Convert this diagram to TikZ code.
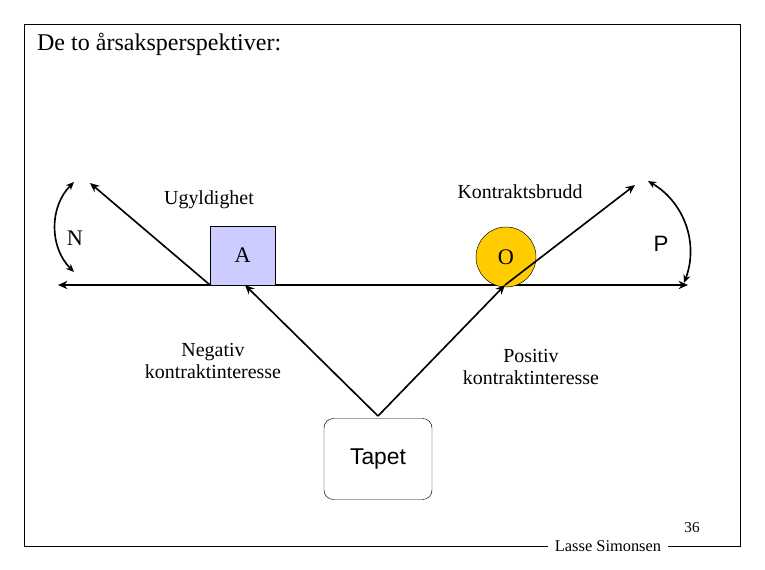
\documentclass[tikz,border=0pt]{standalone}
\usepackage{fontspec}
\setmainfont{Liberation Serif}
\newfontfamily\sans{Liberation Sans}
\usetikzlibrary{arrows.meta}
\begin{document}
\begin{tikzpicture}[x=0.03cm,y=-0.03cm,
  arr/.style={line width=1.4pt,-{Stealth[length=8pt,width=7pt]}},
  lbl/.style={font=\fontsize{17}{19}\selectfont,align=center}]
\useasboundingbox (0,0) rectangle (765,570);
\draw (548,546) -- (24,546) -- (24,24) -- (740,24) -- (740,546) -- (668,546);
\node[anchor=west,font=\fontsize{20.5}{24}\selectfont] (title) at (33,44) {De to årsaksperspektiver:};

% main axis
\coordinate (L) at (58,285);
\coordinate (R) at (688,285);
\draw[line width=1.4pt,{Stealth[length=8pt,width=7pt]}-{Stealth[length=8pt,width=7pt]}] (L) -- (R);

\node[draw,fill={rgb,255:red,204;green,204;blue,255},minimum width=1.95cm,minimum height=1.77cm,anchor=south west,font=\fontsize{19}{22}\selectfont] (A) at (210,285) {A};
\node[draw,circle,fill={rgb,255:red,255;green,204;blue,0},minimum size=1.8cm,font=\fontsize{19}{22}\selectfont] (O) at (506,257) {O};

\coordinate (a0) at (210,285);
\coordinate (a1) at (90,183);
\coordinate (o0) at (505,285);
\coordinate (o1) at (635,185);
\draw[arr] (a0) -- (a1);
\draw[arr] (o0) -- (o1);

\node[lbl] (ugyl) at (209,200) {Ugyldighet};
\node[lbl] (brudd) at (520,192) {Kontraktsbrudd};
\node[font=\fontsize{19}{22}\selectfont] (N) at (75,238) {N};
\node[font=\sans\fontsize{19}{22}\selectfont] (P) at (661,244) {P};

\coordinate (n0) at (74,182);
\coordinate (n1) at (74,272);
\coordinate (p0) at (648,181);
\coordinate (p1) at (684,283);
\draw[line width=1.4pt,{Stealth[length=7pt,width=6pt]}-{Stealth[length=7pt,width=6pt]}] (n0) to[bend right=45] (n1);
\draw[line width=1.4pt,{Stealth[length=7pt,width=6pt]}-{Stealth[length=7pt,width=6pt]}] (p0) to[bend left=40] (p1);

\node[draw,rounded corners=8pt,minimum width=3.24cm,minimum height=2.43cm,font=\sans\fontsize{19.5}{22}\selectfont] (tapet) at (378,459) {Tapet};
\coordinate (t0) at (378,416);
\draw[arr] (t0) -- (245,285);
\draw[arr] (t0) -- (o0);

\node[lbl] (neg) at (213,361) {Negativ\\kontraktinteresse};
\node[lbl] (pos) at (531,367) {Positiv\\kontraktinteresse};

\node[font=\fontsize{14}{16}\selectfont] (name) at (608,546) {Lasse Simonsen};
\node[font=\fontsize{13}{15}\selectfont] (page) at (692,528) {36};
\end{tikzpicture}
\end{document}
